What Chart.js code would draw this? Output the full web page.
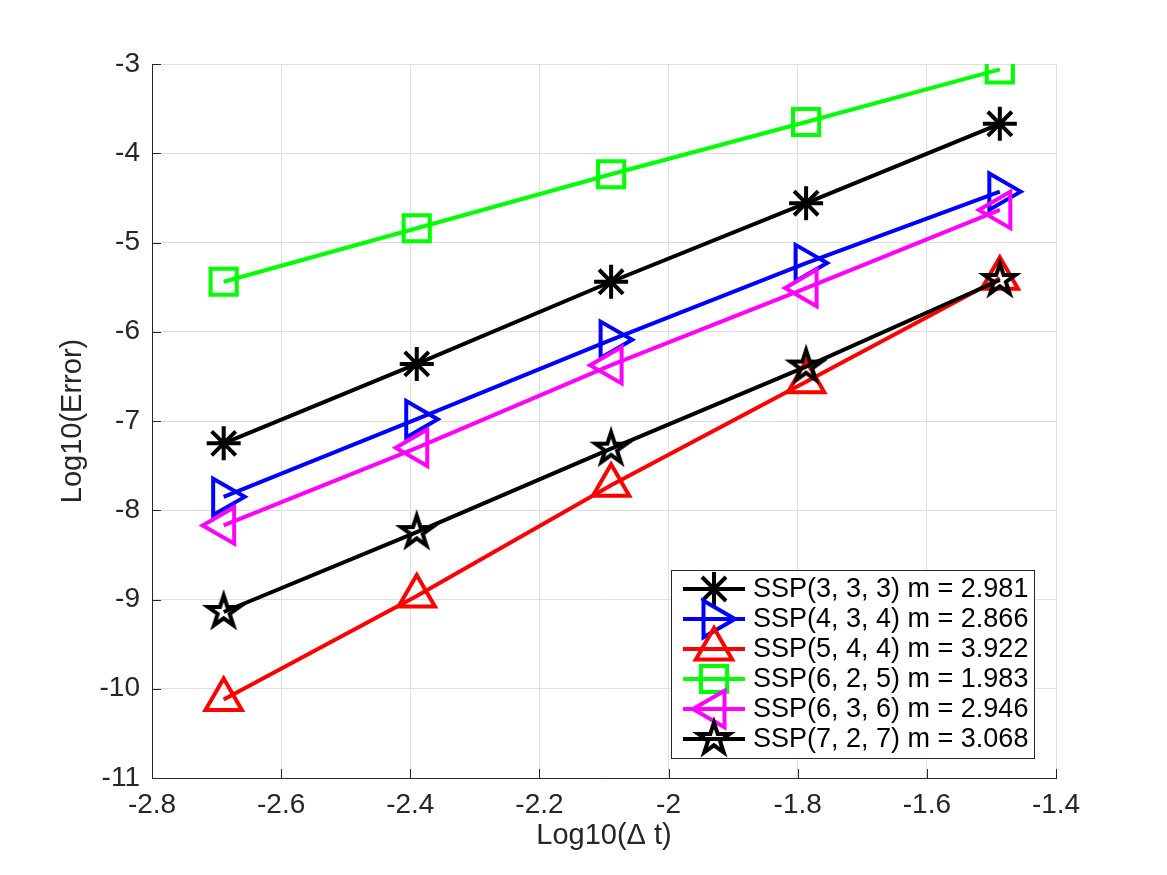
<!DOCTYPE html>
<html>
<head>
<meta charset="utf-8">
<script src="https://cdn.jsdelivr.net/npm/chart.js@4.4.0/dist/chart.umd.min.js"></script>
<style>
    html, body { margin: 0; padding: 0; background: #fff; }
    #wrap { width: 1167px; height: 875px; }
</style>
</head>
<body>
<div id="wrap"><canvas id="errChart" width="1167" height="875"></canvas></div>
<script>
// data: log10(dt) vs log10(error)
const logDt = [-2.689, -2.390, -2.089, -1.787, -1.487];
const ssp333 = [-7.25, -6.36, -5.44, -4.56, -3.67];
const ssp434 = [-7.85, -6.98, -6.09, -5.23, -4.43];
const ssp544 = [-10.12, -8.96, -7.72, -6.56, -5.40];
const ssp625 = [-5.44, -4.84, -4.235, -3.65, -3.06];
const ssp636 = [-8.17, -7.30, -6.375, -5.51, -4.635];
const ssp727 = [-9.14, -8.245, -7.31, -6.39, -5.42];
const seriesNames = [
    'SSP(3, 3, 3) m = 2.981',
    'SSP(4, 3, 4) m = 2.866',
    'SSP(5, 4, 4) m = 3.922',
    'SSP(6, 2, 5) m = 1.983',
    'SSP(6, 3, 6) m = 2.946',
    'SSP(7, 2, 7) m = 3.068'
];
const xTicks = [-2.8, -2.6, -2.4, -2.2, -2, -1.8, -1.6, -1.4];
const yTicks = [-11, -10, -9, -8, -7, -6, -5, -4, -3];

const FONT = "'Liberation Sans', Arial, Helvetica, sans-serif";
const AXIS_COLOR = '#262626';

// pentagram marker (no built-in one in Chart.js)
function makePentagram(R, lw, color) {
    const size = 56;
    const c = document.createElement('canvas');
    c.width = size;
    c.height = size;
    const g = c.getContext('2d');
    g.translate(size / 2, size / 2);
    g.beginPath();
    for (let i = 0; i < 10; i++) {
        const r = i % 2 ? R * 0.382 : R;
        const a = -Math.PI / 2 + i * Math.PI / 5;
        const px = Math.cos(a) * r, py = Math.sin(a) * r;
        if (i === 0) g.moveTo(px, py); else g.lineTo(px, py);
    }
    g.closePath();
    g.lineWidth = lw;
    g.strokeStyle = color;
    g.lineJoin = 'miter';
    g.miterLimit = 10;
    g.stroke();
    return c;
}

function toPoints(ys) {
    return ys.map((v, i) => ({ x: logDt[i], y: v }));
}

function series(idx, ys, color, style, radius, rotation) {
    return {
        label: seriesNames[idx],
        data: toPoints(ys),
        showLine: true,
        borderColor: color,
        borderWidth: 4,
        pointStyle: style,
        pointRadius: radius,
        pointRotation: rotation || 0,
        pointBorderColor: color,
        pointBorderWidth: 4,
        pointBackgroundColor: 'rgba(0,0,0,0)',
        order: 10 - idx
    };
}

const pentagram = makePentagram(16.5, 4, '#000');

// inward tick marks like the original axes
const inwardTicks = {
    id: 'inwardTicks',
    beforeDatasetsDraw(chart) {
        const { ctx, chartArea, scales: { x, y } } = chart;
        ctx.save();
        ctx.strokeStyle = AXIS_COLOR;
        ctx.lineWidth = 1;
        x.ticks.forEach(t => {
            const px = Math.round(x.getPixelForValue(t.value)) + 0.5;
            ctx.beginPath();
            ctx.moveTo(px, chartArea.bottom);
            ctx.lineTo(px, chartArea.bottom - 9);
            ctx.stroke();
        });
        y.ticks.forEach(t => {
            const py = Math.round(y.getPixelForValue(t.value)) + 0.5;
            ctx.beginPath();
            ctx.moveTo(chartArea.left, py);
            ctx.lineTo(chartArea.left + 9, py);
            ctx.stroke();
        });
        ctx.restore();
    }
};

// legend box in the lower right corner, line + marker per entry
const legendBox = {
    id: 'legendBox',
    afterDatasetsDraw(chart) {
        const { ctx, chartArea } = chart;
        const w = 363, h = 188;
        const left = chartArea.right - 22 - w;
        const top = chartArea.bottom - 20 - h;
        ctx.save();
        ctx.fillStyle = '#fff';
        ctx.fillRect(left, top, w, h);
        ctx.strokeStyle = AXIS_COLOR;
        ctx.lineWidth = 1;
        ctx.strokeRect(left + 0.5, top + 0.5, w, h);

        chart.data.datasets.forEach((ds, i) => {
            const cy = top + 19 + 30 * i;
            ctx.strokeStyle = ds.borderColor;
            ctx.lineWidth = 4;
            ctx.beginPath();
            ctx.moveTo(left + 12, cy);
            ctx.lineTo(left + 74, cy);
            ctx.stroke();

            ctx.fillStyle = 'rgba(0,0,0,0)';
            Chart.helpers.drawPoint(ctx, {
                pointStyle: ds.pointStyle,
                rotation: ds.pointRotation,
                radius: ds.pointRadius,
                borderWidth: 4
            }, left + 43, cy);

            ctx.fillStyle = '#000';
            ctx.font = '27px ' + FONT;
            ctx.textBaseline = 'middle';
            ctx.textAlign = 'left';
            ctx.fillText(ds.label, left + 82, cy + 1);
        });
        ctx.restore();
    }
};

new Chart(document.getElementById('errChart'), {
    type: 'scatter',
    data: {
        datasets: [
            series(0, ssp333, '#000000', 'star', 17),
            series(1, ssp434, '#0000ff', 'triangle', 21, 90),
            series(2, ssp544, '#ff0000', 'triangle', 21, 0),
            series(3, ssp625, '#00ff00', 'rect', 18.5),
            series(4, ssp636, '#ff00ff', 'triangle', 21, -90),
            series(5, ssp727, '#000000', pentagram, 20)
        ]
    },
    options: {
        responsive: false,
        animation: false,
        layout: { padding: { top: 64, right: 111, left: 0, bottom: 0 } },
        plugins: { legend: { display: false }, tooltip: { enabled: false } },
        scales: {
            x: {
                type: 'linear',
                min: -2.8,
                max: -1.4,
                afterBuildTicks: s => { s.ticks = xTicks.map(v => ({ value: v })); },
                afterFit: s => { s.height = 97; },
                grid: { color: '#dfdfdf', drawTicks: false },
                border: { color: AXIS_COLOR, width: 1 },
                ticks: {
                    padding: 10,
                    maxRotation: 0,
                    autoSkip: false,
                    color: AXIS_COLOR,
                    font: { family: FONT, size: 28 },
                    callback: v => String(Math.round(v * 10) / 10)
                },
                title: {
                    display: true,
                    text: 'Log10(Δ t)',
                    color: AXIS_COLOR,
                    font: { family: FONT, size: 29 },
                    padding: { top: 0, bottom: 22 }
                }
            },
            y: {
                type: 'linear',
                min: -11,
                max: -3,
                afterBuildTicks: s => { s.ticks = yTicks.map(v => ({ value: v })); },
                afterFit: s => { s.width = 152; },
                grid: { color: '#dfdfdf', drawTicks: false },
                border: { color: AXIS_COLOR, width: 1 },
                ticks: {
                    padding: 12,
                    color: AXIS_COLOR,
                    font: { family: FONT, size: 28 },
                    callback: v => String(v)
                },
                title: {
                    display: true,
                    text: 'Log10(Error)',
                    color: AXIS_COLOR,
                    font: { family: FONT, size: 29 },
                    padding: { top: 56, bottom: 0 }
                }
            }
        }
    },
    plugins: [inwardTicks, legendBox]
});
</script>
</body>
</html>
